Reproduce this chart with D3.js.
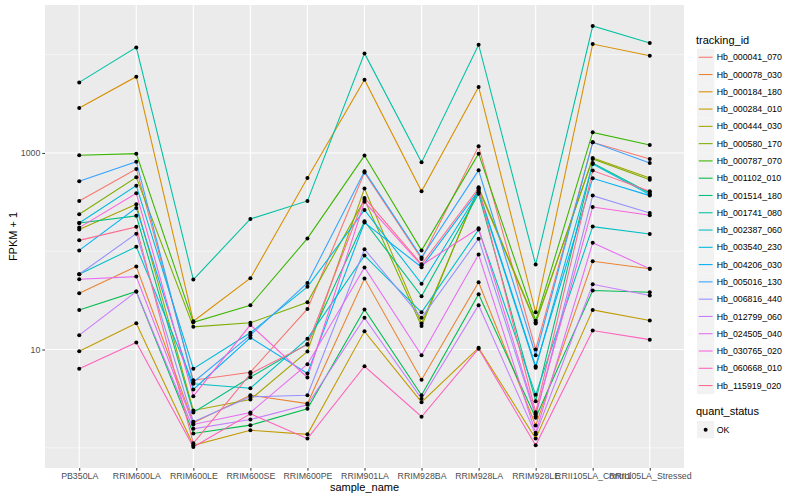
<!DOCTYPE html>
<html>
<head>
<meta charset="utf-8">
<script src="https://cdn.jsdelivr.net/npm/d3@7"></script>
<style>
  body { margin: 0; background: #fff; }
  text { font-family: "Liberation Sans", Arial, sans-serif; }
</style>
</head>
<body>
<svg id="chart" width="800" height="500"></svg>
<script>
const samples = ['PB350LA', 'RRIM600LA', 'RRIM600LE', 'RRIM600SE', 'RRIM600PE', 'RRIM901LA',
    'RRIM928BA', 'RRIM928LA', 'RRIM928LE', 'RRII105LA_Control', 'RRII105LA_Stressed']

const trackingIds = ['Hb_000041_070', 'Hb_000078_030', 'Hb_000184_180', 'Hb_000284_010', 'Hb_000444_030',
    'Hb_000580_170', 'Hb_000787_070', 'Hb_001102_010', 'Hb_001514_180', 'Hb_001741_080',
    'Hb_002387_060', 'Hb_003540_230', 'Hb_004206_030', 'Hb_005016_130', 'Hb_006816_440',
    'Hb_012799_060', 'Hb_024505_040', 'Hb_030765_020', 'Hb_060668_010', 'Hb_115919_020']

// FPKM + 1, one value per sample (same order as samples)
const hb_000041_070 = [325, 687, 4.87, 5.88, 25.9, 631, 83.6, 1167, 10.0, 1282, 869]
const hb_000078_030 = [37.4, 69.8, 1.80, 3.43, 2.82, 52.7, 4.92, 48.3, 1.69, 79.1, 66.2]
const hb_000184_180 = [2870, 5970, 19.4, 53.1, 557, 5560, 407, 4690, 23.9, 12830, 9750]
const hb_000284_010 = [9.61, 18.5, 1.06, 1.51, 1.37, 15.3, 2.91, 10.4, 1.24, 25.3, 19.7]
const hb_000444_030 = [166, 300, 2.40, 3.10, 9.55, 434, 18.4, 430, 18.4, 889, 557]
const hb_000580_170 = [238, 565, 17.0, 18.7, 30.3, 335, 17.3, 447, 18.9, 869, 535]
const hb_000787_070 = [946, 984, 18.9, 28.2, 135, 940, 102, 984, 19.6, 1620, 1205]
const hb_001102_010 = [25.3, 38.9, 1.40, 1.70, 2.49, 25.5, 3.43, 36.5, 2.02, 39.8, 38.3]
const hb_001514_180 = [194, 229, 2.29, 5.23, 11.4, 202, 34.8, 385, 2.98, 791, 392]
const hb_001741_080 = [5220, 11860, 51.5, 213, 325, 10300, 802, 12620, 73.2, 19550, 13130]
const hb_002387_060 = [58.3, 111, 4.48, 4.04, 12.9, 90.3, 23.9, 166, 3.46, 178, 150]
const hb_003540_230 = [194, 465, 6.37, 14.8, 43.4, 263, 46.6, 399, 6.51, 773, 377]
const hb_004206_030 = [102, 276, 3.92, 13.2, 5.70, 196, 68.7, 414, 6.76, 552, 368]
const hb_005016_130 = [514, 816, 4.65, 14.0, 47.6, 650, 86.2, 665, 8.75, 1282, 791]
const hb_006816_440 = [58.3, 151, 1.84, 3.30, 3.43, 105, 21.0, 134, 2.10, 368, 245]
const hb_012799_060 = [14.0, 38.9, 1.56, 1.94, 2.74, 21.0, 3.15, 28.2, 1.37, 46.1, 35.4]
const hb_024505_040 = [51.9, 55.2, 1.73, 2.29, 7.09, 68.2, 8.75, 92.5, 1.42, 122, 66.2]
const hb_030765_020 = [174, 388, 3.35, 17.8, 5.19, 318, 71.9, 171, 2.18, 282, 232]
const hb_060668_010 = [6.37, 11.8, 1.02, 2.22, 1.24, 6.76, 2.07, 10.2, 1.06, 15.6, 12.6]
const hb_115919_020 = [129, 177, 1.11, 5.66, 11.2, 349, 73.6, 437, 2.30, 661, 407]

const yMajorTicks = [10, 1000]
const yMinorTicks = [1, 100, 10000]
const quantStatus = ['OK']

const seriesValues = [hb_000041_070, hb_000078_030, hb_000184_180, hb_000284_010, hb_000444_030,
    hb_000580_170, hb_000787_070, hb_001102_010, hb_001514_180, hb_001741_080,
    hb_002387_060, hb_003540_230, hb_004206_030, hb_005016_130, hb_006816_440,
    hb_012799_060, hb_024505_040, hb_030765_020, hb_060668_010, hb_115919_020]

// ggplot default hue palette for 20 levels
const palette = ['#F8766D', '#EA8331', '#D89000', '#C09B00', '#A3A500', '#7CAE00', '#39B600', '#00BB4E',
    '#00BF7D', '#00C1A3', '#00BFC4', '#00BAE0', '#00B0F6', '#35A2FF', '#9590FF', '#C77CFF',
    '#E76BF3', '#FA62DB', '#FF62BC', '#FF6C91']

const series = trackingIds.map((id, i) => ({
    id: id,
    color: palette[i],
    points: samples.map((s, j) => ({ sample: s, value: seriesValues[i][j] }))
}))

const margin = { top: 5, right: 116, bottom: 32, left: 45 }
const width = 800
const height = 500
const chartWidth = width - margin.left - margin.right
const chartHeight = height - margin.top - margin.bottom

const svg = d3.select('#chart')

// x: discrete with 0.6 expansion on each side
const x = d3.scalePoint()
    .domain(samples)
    .range([0, chartWidth])
    .padding(0.6)

// y: log10 with 5% expansion
const allValues = series.flatMap(s => s.points.map(p => p.value))
const [lo, hi] = d3.extent(allValues).map(Math.log10)
const pad = (hi - lo) * 0.05
const y = d3.scaleLog()
    .domain([Math.pow(10, lo - pad), Math.pow(10, hi + pad)])
    .range([chartHeight, 0])

const g = svg.append('g')
    .attr('transform', `translate(${margin.left},${margin.top})`)

// panel
g.append('rect')
    .attr('width', chartWidth)
    .attr('height', chartHeight)
    .attr('fill', '#EBEBEB')

// grid
g.selectAll('.ygrid-minor')
    .data(yMinorTicks)
    .join('line')
    .attr('x1', 0).attr('x2', chartWidth)
    .attr('y1', d => y(d)).attr('y2', d => y(d))
    .attr('stroke', '#fff').attr('stroke-width', 0.55)

g.selectAll('.ygrid-major')
    .data(yMajorTicks)
    .join('line')
    .attr('x1', 0).attr('x2', chartWidth)
    .attr('y1', d => y(d)).attr('y2', d => y(d))
    .attr('stroke', '#fff').attr('stroke-width', 1.1)

g.selectAll('.xgrid')
    .data(samples)
    .join('line')
    .attr('x1', d => x(d)).attr('x2', d => x(d))
    .attr('y1', 0).attr('y2', chartHeight)
    .attr('stroke', '#fff').attr('stroke-width', 1.1)

// lines
const line = d3.line()
    .x(d => x(d.sample))
    .y(d => y(d.value))

g.selectAll('.series')
    .data(series)
    .join('path')
    .attr('d', d => line(d.points))
    .attr('fill', 'none')
    .attr('stroke', d => d.color)
    .attr('stroke-width', 1.07)

// points
g.selectAll('.dot')
    .data(series.flatMap(s => s.points))
    .join('circle')
    .attr('cx', d => x(d.sample))
    .attr('cy', d => y(d.value))
    .attr('r', 2)
    .attr('fill', '#000')

// axes
const xAxis = g.append('g')
    .attr('transform', `translate(0,${chartHeight})`)
    .call(d3.axisBottom(x).tickSize(2.7).tickPadding(2))
xAxis.select('.domain').remove()
xAxis.selectAll('line').attr('stroke', '#333')
xAxis.selectAll('text')
    .attr('fill', '#4D4D4D')
    .attr('font-size', '8.8px')
    .attr('font-family', '"Liberation Sans", Arial, sans-serif')

const yAxis = g.append('g')
    .call(d3.axisLeft(y).tickValues(yMajorTicks).tickFormat(d3.format('d')).tickSize(2.7).tickPadding(2))
yAxis.select('.domain').remove()
yAxis.selectAll('line').attr('stroke', '#333')
yAxis.selectAll('text')
    .attr('fill', '#4D4D4D')
    .attr('font-size', '8.8px')
    .attr('font-family', '"Liberation Sans", Arial, sans-serif')

svg.append('text')
    .attr('x', margin.left + chartWidth / 2)
    .attr('y', 491)
    .attr('text-anchor', 'middle')
    .attr('font-size', '11px')
    .text('sample_name')

svg.append('text')
    .attr('transform', `translate(16.5,${margin.top + chartHeight / 2}) rotate(-90)`)
    .attr('text-anchor', 'middle')
    .attr('font-size', '11px')
    .text('FPKM + 1')

// legend: tracking_id
const legendX = 697
const keySize = 17.28
const legend = svg.append('g').attr('transform', `translate(${legendX},0)`)

legend.append('text')
    .attr('x', -1)
    .attr('y', 43.5)
    .attr('font-size', '11px')
    .text('tracking_id')

const items = legend.selectAll('.item')
    .data(series)
    .join('g')
    .attr('transform', (d, i) => `translate(0,${48.6 + i * keySize})`)

items.append('rect')
    .attr('width', keySize)
    .attr('height', keySize)
    .attr('fill', '#F2F2F2')

items.append('line')
    .attr('x1', 1.7).attr('x2', keySize - 1.7)
    .attr('y1', keySize / 2).attr('y2', keySize / 2)
    .attr('stroke', d => d.color)
    .attr('stroke-width', 1.07)

items.append('text')
    .attr('x', keySize + 2.5)
    .attr('y', keySize / 2 + 3.1)
    .attr('font-size', '8.8px')
    .text(d => d.id)

// legend: quant_status
const legend2 = svg.append('g').attr('transform', `translate(${legendX},0)`)

legend2.append('text')
    .attr('x', -1)
    .attr('y', 415)
    .attr('font-size', '11px')
    .text('quant_status')

const items2 = legend2.selectAll('.item2')
    .data(quantStatus)
    .join('g')
    .attr('transform', (d, i) => `translate(0,${421 + i * keySize})`)

items2.append('rect')
    .attr('width', keySize)
    .attr('height', keySize)
    .attr('fill', '#F2F2F2')

items2.append('circle')
    .attr('cx', keySize / 2)
    .attr('cy', keySize / 2)
    .attr('r', 2)
    .attr('fill', '#000')

items2.append('text')
    .attr('x', keySize + 2.5)
    .attr('y', keySize / 2 + 3.1)
    .attr('font-size', '8.8px')
    .text(d => d)
</script>
</body>
</html>
